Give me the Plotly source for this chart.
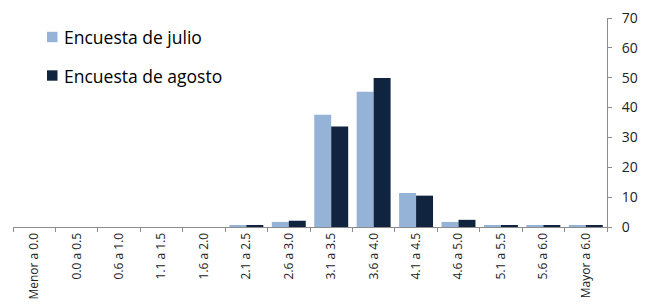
import plotly.graph_objects as go

categorias = ["Menor a 0.0", "0.0 a 0.5", "0.6 a 1.0", "1.1 a 1.5", "1.6 a 2.0",
              "2.1 a 2.5", "2.6 a 3.0", "3.1 a 3.5", "3.6 a 4.0", "4.1 a 4.5",
              "4.6 a 5.0", "5.1 a 5.5", "5.6 a 6.0", "Mayor a 6.0"]
julio = [0, 0, 0, 0, 0, 0.5, 1.7, 37.6, 45.3, 11.4, 1.7, 0.5, 0.5, 0.5]
agosto = [0, 0, 0, 0, 0, 0.5, 2.1, 33.7, 49.9, 10.5, 2.4, 0.5, 0.5, 0.5]
series = [("Encuesta de julio", julio, "#95B3D7"),
          ("Encuesta de agosto", agosto, "#10243F")]

OFF = 8  # default page body margin
W, H = 656 - OFF, 307 - OFF
L, R, T, B = 13 - OFF, W - (607 - OFF), 10, 80

fig = go.Figure()
for name, vals, color in series:
    fig.add_trace(go.Bar(x=categorias, y=vals, name=name, showlegend=False,
                         marker=dict(color=color, line=dict(width=0))))

# manual legend (window pixel positions converted to paper coordinates)
pw, ph = W - L - R, H - T - B
def px(x):
    return (x - OFF - L) / pw
def py(y):
    return (H - B - (y - OFF)) / ph

for i, (name, vals, color) in enumerate(series):
    cy = 37 + i * 38.5
    fig.add_shape(type="rect", xref="paper", yref="paper",
                  x0=px(47), x1=px(57.5), y0=py(cy + 5.2), y1=py(cy - 5.2),
                  fillcolor=color, line=dict(width=0))
    fig.add_annotation(xref="paper", yref="paper", x=px(62), y=py(cy),
                       xanchor="left", yanchor="middle", showarrow=False,
                       text=name, font=dict(size=17.5, color="#000000",
                                            family="Open Sans"))

fig.update_layout(
    width=W, height=H,
    margin=dict(l=L, r=R, t=T, b=B),
    paper_bgcolor="white", plot_bgcolor="white",
    barmode="group", bargap=0.2, bargroupgap=0,
    font=dict(family="Open Sans", color="#000000"),
    showlegend=False,
)
fig.update_xaxes(type="category", tickangle=-90, showline=True, linecolor="#8C8C8C",
                 linewidth=1, ticks="outside", tickson="boundaries", ticklen=4,
                 tickcolor="#8C8C8C", tickfont=dict(size=12, color="#222222"),
                 showgrid=False, automargin=False, ticklabeloverflow="allow")
fig.update_yaxes(side="right", range=[0, 70], dtick=10, showline=True,
                 linecolor="#8C8C8C", linewidth=1, ticks="outside", ticklen=4,
                 tickcolor="#8C8C8C", showgrid=False, zeroline=False,
                 tickfont=dict(size=14, color="#222222"), automargin=False,
                 ticklabeloverflow="allow", ticklabelstandoff=7)

fig.write_html("out.html")
